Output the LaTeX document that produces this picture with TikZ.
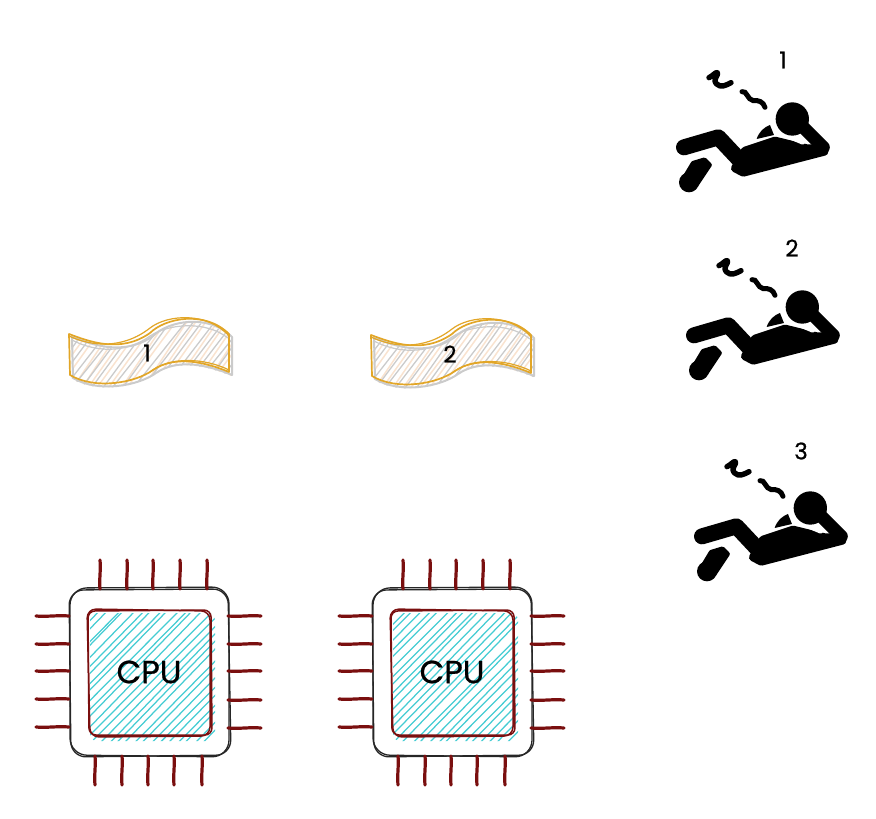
\documentclass[tikz,border=0pt]{standalone}
\usepackage{fontspec}
\setmainfont[FakeBold=0.7]{Poppins}
\definecolor{pinred}{HTML}{7A0F0F}
\definecolor{cyanhatch}{HTML}{45CCD3}
\definecolor{bandorange}{HTML}{E2A627}
\definecolor{bandgrey}{HTML}{CBCBCB}
\definecolor{bandpeach}{HTML}{F9E3D0}
\tikzset{
  pinline/.style={draw=pinred,line width=3.2pt,line cap=round},
  chipline/.style={draw=black!85,line width=1.3pt},
  coreline/.style={draw=pinred,line width=1.5pt},
  hatchcyan/.style={draw=cyanhatch,line width=1.25pt,line cap=round},
  hatchgrey/.style={draw=bandgrey,line width=1.3pt},
  hatchpeach/.style={draw=bandpeach,line width=1.5pt},
  bandline/.style={draw=bandorange,line width=1.7pt,line join=round},
  bandshadow/.style={draw=bandgrey,line width=2pt,line join=round},
  cpulabel/.style={font=\fontsize{32}{32}\selectfont,inner sep=0pt,text=black},
  numlabel/.style={font=\fontsize{23}{23}\selectfont,inner sep=0pt,text=black},
}
\newcommand{\bandoutline}{(69,334) .. controls (88,341) and (120,354) .. (150,333) .. controls (165,318) and (205,310) .. (229,334) -- (229,372) .. controls (205,362) and (175,355) .. (153,370) .. controls (135,383) and (95,390) .. (70,375) -- cycle}
% #1 shift x, #2 shift y, #3 text, #4 node name, #5 label x
\newcommand{\drawband}[5]{%
  \begin{scope}[shift={(#1,#2)}]
    \begin{scope}
      \clip[shift={(2,4)}] \bandoutline;
      \foreach \i in {0,...,26}{
        \pgfmathsetmacro{\ja}{rnd*3}
        \pgfmathsetmacro{\jb}{rnd*8}
        \draw[hatchpeach] ({36+10*\i+5+\jb},395) -- ({36+10*\i+5+62+\ja},310);
        \draw[hatchgrey] ({36+10*\i+\ja},395) -- ({36+10*\i+62+\jb},310);
      }
    \end{scope}
    \draw[bandshadow,shift={(3,3)}] \bandoutline;
    \draw[bandline] \bandoutline;
    \draw[bandline,line width=1.2pt] (69,336) .. controls (90,346) and (122,350) .. (150,328) .. controls (168,314) and (208,312) .. (229,336);
    \draw[bandline,line width=1.2pt] (229,370) .. controls (205,358) and (170,356) .. (150,372);
    \draw[bandgrey,line width=1.2pt] (72,340) .. controls (95,352) and (125,354) .. (150,336) .. controls (168,324) and (205,320) .. (228,338);
    \node[numlabel] (#4) at (#5,353) {#3};
  \end{scope}}
% #1 shift x, #2 shift y, #3 name
\newcommand{\drawcpu}[3]{%
  \begin{scope}[shift={(#1,#2)}]
    \begin{scope}
      \clip[shift={(2,3)},rounded corners=7pt] (88,610) rectangle (213,738);
      \foreach \i in {0,...,31}{
        \pgfmathsetmacro{\ja}{rnd*3}
        \pgfmathsetmacro{\jb}{rnd*5}
        \draw[hatchcyan] ({-50+8.6*\i+\ja},745) -- ({-50+8.6*\i+\ja+140+\jb},600);
      }
    \end{scope}
    \draw[chipline,rounded corners=17pt] (70,588) -- (229,587) -- (229,757) -- (70,755) -- cycle;
    \draw[chipline,rounded corners=15pt] (69,590) -- (228,589) -- (231,755) -- (71,757) -- cycle;
    \draw[coreline,rounded corners=7pt] (88,611) -- (211,610) -- (212,735) -- (89,735) -- cycle;
    \draw[coreline,rounded corners=9pt] (87,609) -- (210,611) -- (210,736) -- (90,737) -- cycle;
    \foreach \x in {100,127,153,180,207}{\draw[pinline] (\x,560) .. controls (\x+1,570) and (\x-1,580) .. (\x,589);}
    \foreach \x in {95,122,148,174,202}{\draw[pinline] (\x,756) .. controls (\x+1,765) and (\x-1,775) .. (\x,785);}
    \foreach \y in {616,644,671,699,727}{\draw[pinline] (36,\y) .. controls (46,\y+1) and (58,\y-1) .. (69,\y);}
    \foreach \y in {616,644,671,700,728}{\draw[pinline] (228,\y) .. controls (240,\y+1) and (250,\y-1) .. (261,\y);}
    \node[cpulabel] (#3) at (149,672) {CPU};
  \end{scope}}
% #1 dx, #2 dy
\newcommand{\drawsleeper}[2]{%
  \begin{scope}[shift={(660+#1,40+#2)},x=0.3333pt,y=-0.3333pt]
    % upper leg
    \draw[black,line width=16pt,line cap=round,line join=round] (72,322) -- (175,292) -- (250,372);
    % torso
    \filldraw[black,line width=8pt,line join=round] (255,332) -- (345,302) -- (440,325) -- (493,325) -- (493,335) -- (250,398) -- (225,385) -- cycle;
    % arm
    \draw[black,line width=13pt,line cap=round] (490,322) -- (430,262);
    % lower leg
    \filldraw[black,line width=5pt,line join=round] (100,370) -- (133,360) -- (148,375) -- (108,435) -- (70,420) -- cycle;
    \fill[black] (87,427) circle[radius=30];
    % chest
    \fill[black] (290,297) .. controls (297,275) and (312,262) .. (330,255) -- (342,285) -- cycle;
    % white band round head
    \draw[white,line width=4.6pt,line cap=round] (342,235) .. controls (345,265) and (365,285) .. (395,293) -- (428,307);
    % head
    \fill[black] (397,237) circle[radius=50];
    % z marks
    \draw[black,line width=5.4pt,line cap=round,line join=round] (147,113) .. controls (158,108) and (168,95) .. (172,98) .. controls (178,105) and (155,118) .. (170,132) .. controls (182,145) and (200,135) .. (213,128);
    \draw[black,line width=5pt,line cap=round] (246,155) .. controls (260,150) and (262,180) .. (280,182) .. controls (295,180) and (310,185) .. (315,202);
  \end{scope}}
\begin{document}
\begin{tikzpicture}[x=1pt,y=-1pt]
  \useasboundingbox (0,0) rectangle (876,819);
  \pgfmathsetseed{4211}
  \drawband{0}{0}{1}{bandone}{147}
  \drawband{302}{1}{2}{bandtwo}{148}
  \drawcpu{0}{0}{cpuone}
  \drawcpu{303}{0}{cputwo}
  \drawsleeper{0}{0}
  \drawsleeper{10}{188}
  \drawsleeper{18}{389}
  \node[numlabel] (sleepone) at (783,60) {1};
  \node[numlabel] (sleeptwo) at (792,248) {2};
  \node[numlabel] (sleepthree) at (801,451) {3};
\end{tikzpicture}
\end{document}
